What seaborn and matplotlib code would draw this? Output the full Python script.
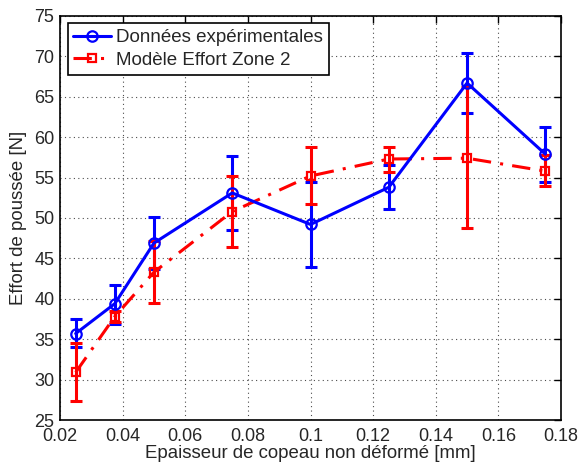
import numpy as np
import pandas as pd
import matplotlib
matplotlib.use("Agg")
import matplotlib.pyplot as plt
import seaborn as sns

# épaisseur de copeau [mm]
h = [0.025, 0.0375, 0.05, 0.075, 0.1, 0.125, 0.15, 0.175]

# données expérimentales
exp_mean = [35.7, 39.4, 46.9, 53.1, 49.2, 53.8, 66.7, 57.9]
exp_low = [34.0, 36.9, 43.7, 48.5, 43.9, 51.1, 63.0, 54.4]
exp_high = [37.5, 41.7, 50.1, 57.7, 54.5, 56.5, 70.4, 61.3]

# modèle effort zone 2
mod_mean = [30.9, 37.8, 43.3, 50.8, 55.2, 57.3, 57.4, 55.8]
mod_low = [27.3, 37.1, 39.5, 46.4, 51.7, 55.7, 48.7, 53.9]
mod_high = [34.5, 38.5, 47.1, 55.2, 58.75, 58.75, 66.2, 57.8]

df_exp = pd.DataFrame({"h": h, "F": exp_mean})
df_mod = pd.DataFrame({"h": h, "F": mod_mean})

sns.set_style("white")
plt.rcParams["font.family"] = ["Liberation Sans", "DejaVu Sans"]

fig = plt.figure(figsize=(5.81, 4.66), dpi=100)
ax = fig.add_axes([0.1033, 0.0987, 0.8623, 0.867])

# barres d'erreur
exp_err = [np.array(exp_mean) - np.array(exp_low), np.array(exp_high) - np.array(exp_mean)]
mod_err = [np.array(mod_mean) - np.array(mod_low), np.array(mod_high) - np.array(mod_mean)]
ax.errorbar(h, exp_mean, yerr=exp_err, fmt="none", ecolor="blue", elinewidth=2.2, capsize=4.5, capthick=2.2, zorder=2)
ax.errorbar(h, mod_mean, yerr=mod_err, fmt="none", ecolor="red", elinewidth=2.2, capsize=4.5, capthick=2.2, zorder=3)

sns.lineplot(data=df_mod, x="h", y="F", ax=ax, color="red", linewidth=2.2, marker="s",
             markersize=6, markerfacecolor="none", markeredgecolor="red", markeredgewidth=1.6,
             label="Modèle Effort Zone 2", zorder=4)
ax.lines[-1].set_dashes([6, 3, 1, 3])
sns.lineplot(data=df_exp, x="h", y="F", ax=ax, color="blue", linewidth=2.2, marker="o",
             markersize=7.5, markerfacecolor="none", markeredgecolor="blue", markeredgewidth=1.6,
             label="Données expérimentales", zorder=5)

ax.set_xlim(0.02, 0.18)
ax.set_ylim(25, 75)
ax.set_xticks(np.arange(0.02, 0.181, 0.02))
ax.set_xticklabels(["0.02", "0.04", "0.06", "0.08", "0.1", "0.12", "0.14", "0.16", "0.18"])
ax.set_yticks(range(25, 76, 5))
ax.grid(True, linestyle=(0, (1, 3)), color="black", linewidth=0.8, alpha=0.7)
ax.tick_params(direction="in", top=True, right=True, labelsize=13, length=5, width=1, color="black")
ax.tick_params(axis="x", pad=6)
ax.tick_params(axis="y", pad=4)
for s in ax.spines.values():
    s.set_color("black")
    s.set_linewidth(1.2)

ax.set_xlabel("Epaisseur de copeau non déformé [mm]", fontsize=13.4, labelpad=0)
ax.set_ylabel("Effort de poussée [N]", fontsize=13.4, labelpad=5)

handles, labels = ax.get_legend_handles_labels()
leg = ax.legend(handles[::-1], labels[::-1], loc="upper left", fontsize=13.5, frameon=True,
                fancybox=False, framealpha=1, edgecolor="black", borderpad=0.3,
                handlelength=2.0, handletextpad=0.3, labelspacing=0.3, borderaxespad=0.4)
leg.get_frame().set_linewidth(1.2)

fig.savefig("out.png", dpi=100)
